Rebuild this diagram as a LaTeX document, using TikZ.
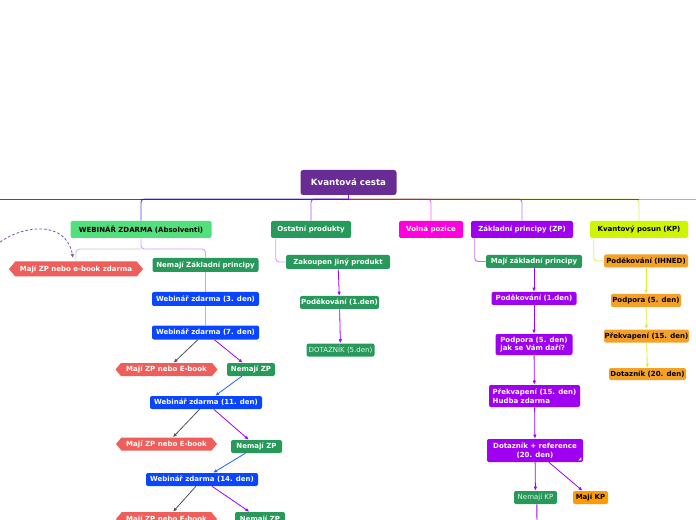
\documentclass[tikz,border=0pt]{standalone}
\usepackage{fontspec}
\setmainfont{DejaVu Sans}
\usetikzlibrary{shapes.symbols,arrows.meta}
\definecolor{rootc}{HTML}{682C94}
\definecolor{lgreen}{HTML}{52E07C}
\definecolor{dgreen}{HTML}{27995A}
\definecolor{magc}{HTML}{FF00DD}
\definecolor{purc}{HTML}{A000F0}
\definecolor{ygc}{HTML}{D0F500}
\definecolor{orc}{HTML}{F4A128}
\definecolor{orb}{HTML}{FF9A00}
\definecolor{bluec}{HTML}{0A46FF}
\definecolor{redc}{HTML}{EE5F5B}
\definecolor{lineblue}{HTML}{1F4FE6}
\definecolor{lineind}{HTML}{3515D0}
\definecolor{linepur}{HTML}{A010F0}
\definecolor{linelp}{HTML}{D890F0}
\definecolor{cweb}{HTML}{5B3CF0}
\definecolor{cost}{HTML}{B24BF5}
\definecolor{cvol}{HTML}{FF60F0}
\definecolor{czp}{HTML}{C070F0}
\definecolor{ckp}{HTML}{E0F060}
\definecolor{lpl}{HTML}{D0A0FF}
\definecolor{grl}{HTML}{C8C8C8}
\definecolor{arrgray}{HTML}{505050}
\definecolor{arrpur}{HTML}{A000FF}
\definecolor{arrblue}{HTML}{2060FF}
\definecolor{arryg}{HTML}{D8F030}
\definecolor{dashc}{HTML}{7B52A8}
\definecolor{paletxt}{HTML}{E4F4E8}
\begin{document}
\begin{tikzpicture}[x=0.75pt,y=-0.75pt,
  sz/.style 2 args={minimum width=#1*0.75pt, minimum height=#2*0.75pt},
  box/.style={rounded corners=1.5pt, inner sep=0pt, text=white,
    font=\fontsize{5.25}{6.4}\selectfont\bfseries},
  hexa/.style={signal, signal to=west and east, signal pointer angle=100,
    fill=redc, inner sep=0pt, text=white, font=\fontsize{5.25}{6.4}\selectfont\bfseries},
  conn/.style={line width=0.7pt},
  arr/.style={line width=0.6pt, -{Latex[length=3pt,width=2.6pt]}},
  tri/.style={fill=white}
]
\useasboundingbox (0,0) rectangle (696,520);
% root and first level
\node[box, sz={96}{25}, fill=rootc, rounded corners=2pt, font=\fontsize{6.5}{8}\selectfont\bfseries] (root) at (348.5,182.5) {Kvantová cesta};
\node[box, sz={141}{17}, fill=lgreen, text=black] (web) at (141,229.5) {WEBINÁŘ ZDARMA (Absolventi)};
\node[box, sz={80}{17}, fill=dgreen] (ost) at (311,229.5) {Ostatní produkty};
\node[box, sz={64}{17}, fill=magc] (vol) at (431,229.5) {Volná pozice};
\node[box, sz={102}{17}, fill=purc] (zp) at (522,229.5) {Základní principy (ZP)};
\node[box, sz={98}{17}, fill=ygc, text=black] (kp) at (639,229.5) {Kvantový posun (KP)};

\coordinate (J) at (348.5,199);
\coordinate (L) at (0,199);
\coordinate (R) at (696,199);

% drops
\draw[conn, cweb, rounded corners=2.5pt] (J) -| (web.north);
\draw[conn, cost, rounded corners=2.5pt] (J) -| (ost.north);
\draw[conn, cvol, rounded corners=2.5pt] (J) -| (vol.north);
\draw[conn, czp, rounded corners=2.5pt] (J) -| (zp.north);
\draw[conn, ckp, rounded corners=2.5pt] (J) -| (kp.north);
% main line
\draw[conn, lineblue] (L) -- (web.north |- J);
\draw[conn, lineind] (web.north |- J) -- (J);
\draw[conn, linepur] (J) -- (kp.north |- J);
\draw[conn, linelp] (kp.north |- J) -- (R);
\draw[conn, linepur] (root.south) -- (J);

% WEBINAR subtree
\node[hexa, sz={134}{15}] (mzpz) at (76,269) {Mají ZP nebo e-book zdarma};
\node[box, sz={106}{14}, fill=dgreen] (nzp) at (205.5,265) {Nemají Základní principy};
\node[box, sz={107}{14}, fill=bluec] (w3) at (205.5,299) {Webinář zdarma (3. den)};
\node[box, sz={107}{14}, fill=bluec] (w7) at (205.5,332.5) {Webinář zdarma (7. den)};
\node[hexa, sz={102}{13}] (m7) at (166.5,369.5) {Mají ZP nebo E-book};
\node[box, sz={48}{13}, fill=dgreen] (n7) at (251,369.5) {Nemají ZP};
\node[box, sz={112}{13}, fill=bluec] (w11) at (206,402.5) {Webinář zdarma (11. den)};
\node[hexa, sz={101}{13}] (m11) at (166.5,444) {Mají ZP nebo E-book};
\node[box, sz={51}{13}, fill=dgreen] (n11) at (256.5,446.5) {Nemají ZP};
\node[box, sz={112}{13}, fill=bluec] (w14) at (202,479.5) {Webinář zdarma (14. den)};
\node[hexa, sz={101}{14}] (m14) at (166.5,519) {Mají ZP nebo E-book};
\node[box, sz={50}{14}, fill=dgreen] (n14) at (260,519) {Nemají ZP};
\fill[tri] ([shift={(-5,-2)}]n14.south east) -- ++(3,0) -- ++(0,-3) -- cycle;

\coordinate (wb) at (141,249);
\draw[conn, grl, rounded corners=2.5pt] (wb) -| (mzpz.north);
\draw[conn, lpl, rounded corners=2.5pt] (web.south) -- (wb) -| (nzp.north);
\draw[conn, lpl] (nzp) -- (w3);
\draw[conn, lpl] (w3) -- (w7);
\draw[arr, arrgray] (w7) -- (m7);
\draw[arr, arrpur] (w7) -- (n7);
\draw[arr, arrblue] (n7) -- (w11);
\draw[arr, arrgray] (w11) -- (m11);
\draw[arr, arrpur] (w11) -- (n11);
\draw[arr, arrblue] (n11) -- (w14);
\draw[arr, arrgray] (w14) -- (m14);
\draw[arr, arrpur] (w14) -- (n14);

\coordinate (dsrc) at (0,242);
\coordinate (dtgt) at (73,258);
\draw[line width=0.6pt, dashc, dash pattern=on 2pt off 1.5pt, -{Latex[length=3pt,width=2.6pt]}]
  (dsrc) .. controls (24,225) and (66,220) .. (dtgt);

% Ostatni subtree
\node[box, sz={104}{14}, fill=dgreen] (zak) at (338,262) {Zakoupen jiný produkt};
\node[box, sz={79}{13}, fill=dgreen] (po1) at (339.5,302.5) {Poděkování (1.den)};
\node[box, sz={68}{13}, fill=dgreen, text=paletxt, font=\fontsize{5.25}{6.4}\selectfont] (d5) at (340.5,350) {DOTAZNÍK (5.den)};
\draw[conn, lpl, rounded corners=2.5pt] ([xshift=3.75pt]ost.south west) |- (zak.west);
\draw[arr, arrpur] (zak) -- (po1);
\draw[arr, arrpur] (po1) -- (d5);

% ZP subtree
\node[box, sz={96}{13}, fill=dgreen] (mzp) at (534,261.5) {Mají základní principy};
\node[box, sz={85}{13}, fill=purc] (pz1) at (534,298.5) {Poděkování (1.den)};
\node[box, sz={77}{21}, fill=purc, align=left] (pz5) at (534,344.5) {Podpora (5. den)\\jak se Vám daří?};
\node[box, sz={91}{22}, fill=purc, align=left] (pz15) at (534.5,396) {Překvapení (15. den)\\Hudba zdarma};
\node[box, sz={96}{23}, fill=purc, align=center] (pz20) at (535,450.5) {Dotazník + reference\\(20. den)};
\fill[tri] ([shift={(-5,-2)}]pz20.south east) -- ++(3,0) -- ++(0,-3) -- cycle;
\node[box, sz={43}{13}, fill=dgreen, text=paletxt, font=\fontsize{5.25}{6.4}\selectfont] (nkp) at (535.5,497.5) {Nemají KP};
\node[box, sz={35}{13}, fill=orb, text=black] (mkp) at (590.5,497.5) {Mají KP};
\draw[conn, czp, rounded corners=2.5pt] ([xshift=3pt]zp.south west) |- (mzp.west);
\draw[arr, arrpur] (mzp) -- (pz1);
\draw[arr, arrpur] (pz1) -- (pz5);
\draw[arr, arrpur] (pz5) -- (pz15);
\draw[arr, arrpur] (pz15) -- (pz20);
\draw[arr, arrpur] (pz20) -- (nkp);
\draw[arr, arrpur] (pz20) -- (mkp);
\coordinate (nkpend) at (537,522);
\draw[line width=0.7pt, arrpur] ([xshift=1pt]nkp.south) -- (nkpend);

% KP subtree
\node[box, sz={84}{13}, fill=orc, text=black] (pk1) at (646,261) {Poděkování (IHNED)};
\node[box, sz={70}{13}, fill=orc, text=black] (pk5) at (646,300.5) {Podpora (5. den)};
\node[box, sz={85}{13}, fill=orc, text=black] (pk15) at (646.5,336) {Překvapení (15. den)};
\node[box, sz={77}{12}, fill=orc, text=black] (pk20) at (647.5,374) {Dotazník (20. den)};
\draw[conn, ckp, rounded corners=2.5pt] ([xshift=3pt]kp.south west) |- (pk1.west);
\draw[arr, arryg] (pk1) -- (pk5);
\draw[arr, arryg] (pk5) -- (pk15);
\draw[arr, arryg] (pk15) -- (pk20);
\end{tikzpicture}
\end{document}
